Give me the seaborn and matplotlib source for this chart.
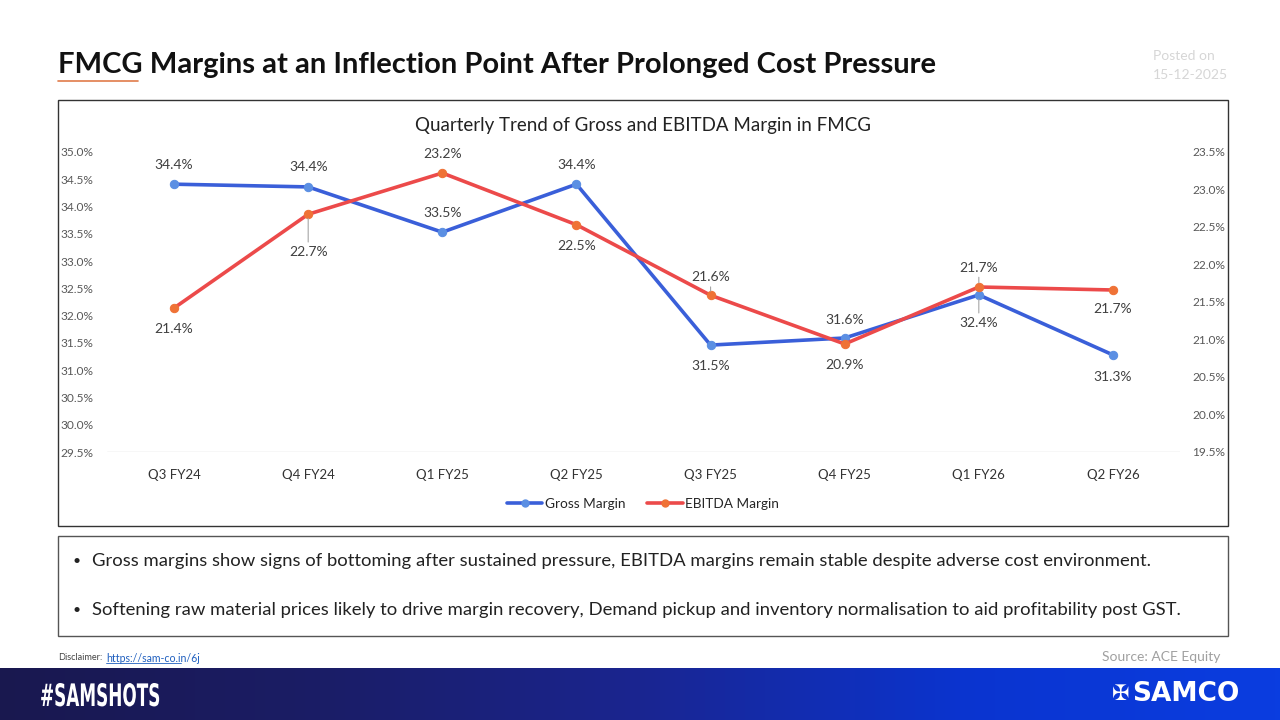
import numpy as np
import pandas as pd
import matplotlib
matplotlib.use("Agg")
import matplotlib.pyplot as plt
import seaborn as sns
from matplotlib.colors import LinearSegmentedColormap
from matplotlib.patches import Rectangle, PathPatch
from matplotlib.lines import Line2D
from matplotlib.textpath import TextPath
from matplotlib.font_manager import FontProperties
from matplotlib.transforms import Affine2D, IdentityTransform
from matplotlib.ticker import FuncFormatter, MultipleLocator

# data
quarters = ["Q3 FY24", "Q4 FY24", "Q1 FY25", "Q2 FY25", "Q3 FY25", "Q4 FY25", "Q1 FY26", "Q2 FY26"]
gross_margin = [34.41, 34.36, 33.53, 34.41, 31.46, 31.59, 32.38, 31.28]
ebitda_margin = [21.42, 22.67, 23.22, 22.53, 21.59, 20.94, 21.70, 21.66]
gross_labels = ["34.4%", "34.4%", "33.5%", "34.4%", "31.5%", "31.6%", "32.4%", "31.3%"]
ebitda_labels = ["21.4%", "22.7%", "23.2%", "22.5%", "21.6%", "20.9%", "21.7%", "21.7%"]

bullets = [
    "Gross margins show signs of bottoming after sustained pressure, EBITDA margins remain stable despite adverse cost environment.",
    "Softening raw material prices likely to drive margin recovery, Demand pickup and inventory normalisation to aid profitability post GST.",
]

sns.set_style("white")
plt.rcParams['font.family'] = ['Lato', 'DejaVu Sans']

df = pd.DataFrame({"Quarter": quarters, "Gross": gross_margin, "EBITDA": ebitda_margin})

blue = "#3a5fd9"
blue_mk = "#5b8fe3"
red = "#ec4a4a"
red_mk = "#ef7236"
tick_col = "#595959"

fig = plt.figure(figsize=(12.8, 7.2), dpi=100)

# title
fig.text(58/1280, 1-65/720, "FMCG Margins at an Inflection Point After Prolonged Cost Pressure",
         fontsize=21, fontweight="bold", color="#111111", va="center", ha="left")
fig.add_artist(Line2D([58/1280, 138/1280], [1-81/720, 1-81/720], color="#e07b4a", lw=1.2))
fig.text(1153/1280, 1-56/720, "Posted on", fontsize=10, color="#d6d6d6", va="center")
fig.text(1153/1280, 1-75/720, "15-12-2025", fontsize=10, color="#d6d6d6", va="center")

# chart frame and text box
fig.add_artist(Rectangle((58/1280, 1-526/720), 1170/1280, 426/720, fill=False, ec="#333333", lw=1))
fig.add_artist(Rectangle((58/1280, 1-636/720), 1170/1280, 100/720, fill=False, ec="#555555", lw=1))
fig.text(643/1280, 1-125/720, "Quarterly Trend of Gross and EBITDA Margin in FMCG",
         fontsize=13.5, color="#222222", ha="center", va="center")

ax = fig.add_axes([107/1280, 1-452/720, 1073/1280, 300/720])
ax2 = ax.twinx()

sns.lineplot(data=df, x="Quarter", y="Gross", ax=ax, color=blue, lw=2.6, marker="o",
             markersize=6, markerfacecolor=blue_mk, markeredgecolor=blue_mk, label="Gross Margin", legend=False)
sns.lineplot(data=df, x="Quarter", y="EBITDA", ax=ax2, color=red, lw=2.6, marker="o",
             markersize=6, markerfacecolor=red_mk, markeredgecolor=red_mk, label="EBITDA Margin", legend=False)

ax.set_xlim(-0.5, 7.5)
ax.set_ylim(29.5, 35.0)
ax2.set_ylim(19.5, 23.5)
ax.yaxis.set_major_locator(MultipleLocator(0.5))
ax2.yaxis.set_major_locator(MultipleLocator(0.5))
fmt = FuncFormatter(lambda v, p: f"{v:.1f}%")
ax.yaxis.set_major_formatter(fmt)
ax2.yaxis.set_major_formatter(fmt)
for a in (ax, ax2):
    for s in a.spines.values():
        s.set_visible(False)
    a.set_xlabel("")
    a.set_ylabel("")
    a.tick_params(axis="y", length=0, labelsize=8.6, labelcolor=tick_col)
    a.tick_params(axis="x", length=0, labelsize=9.5, labelcolor="#333333", pad=12)
ax.tick_params(axis="y", pad=10)
ax2.tick_params(axis="y", pad=9)
ax.axhline(29.5, color="#d9d9d9", lw=1)

# data labels: offsets in points, leader line flag
gross_off = [(14, False), (14, False), (14, False), (14, False), (-15, False), (13, False), (-20, True), (-16, False)]
ebitda_off = [(-15, False), (-27, True), (14, False), (-15, False), (13, True), (-15, False), (14, True), (-14, False)]

def put_labels(axis, vals, labels, offs):
    for i, (v, lab, (dy, lead)) in enumerate(zip(vals, labels, offs)):
        axis.annotate(lab, (i, v), xytext=(0, dy), textcoords="offset points",
                      ha="center", va="center", fontsize=10, color="#404040")
        if lead:
            sign = 1 if dy > 0 else -1
            axis.annotate("", (i, v), xytext=(0, dy - sign*7), textcoords="offset points",
                          arrowprops=dict(arrowstyle="-", color="#a6a6a6", lw=0.8,
                                          shrinkA=0, shrinkB=3))

put_labels(ax, gross_margin, gross_labels, gross_off)
put_labels(ax2, ebitda_margin, ebitda_labels, ebitda_off)

handles = [
    Line2D([], [], color=blue, lw=2.6, marker="o", markersize=5, markerfacecolor=blue_mk, markeredgecolor=blue_mk),
    Line2D([], [], color=red, lw=2.6, marker="o", markersize=5, markerfacecolor=red_mk, markeredgecolor=red_mk),
]
fig.legend(handles, ["Gross Margin", "EBITDA Margin"], loc="center", bbox_to_anchor=(643/1280, 1-504/720),
           ncol=2, frameon=False, fontsize=9.8, handlelength=2.6, columnspacing=1.6, handletextpad=0.2)

# bullets
for yy, txt in zip([561, 610], bullets):
    fig.text(73/1280, 1-yy/720, "\u2022", fontsize=10, color="#222222", va="center")
    fig.text(92/1280, 1-yy/720, txt, fontsize=13.3, color="#222222", va="center")

# footer
fig.text(58/1280, 1-658/720, "Disclaimer:", fontsize=6.6, color="#444444", va="center")
fig.text(106/1280, 1-658/720, "https://sam-co.in/6j", fontsize=7.6, color="#1f5fbf", va="center")
fig.add_artist(Line2D([106/1280, 181/1280], [1-663/720, 1-663/720], color="#1f5fbf", lw=0.6))
fig.text(1220/1280, 1-657/720, "Source: ACE Equity", fontsize=10, color="#a0a0a0", va="center", ha="right")

fax = fig.add_axes([0, 0, 1, 52/720])
cmap = LinearSegmentedColormap.from_list("band", ["#19184f", "#1b1d66", "#1a2590", "#0b34cf", "#0a3de0"])
fax.imshow(np.linspace(0, 1, 256).reshape(1, -1), cmap=cmap, aspect="auto", extent=(0, 1, 0, 1))
fax.set_axis_off()

# condensed "#SAMSHOTS" drawn as a squeezed text path (pixel coords)
tp = TextPath((0, 0), "#SAMSHOTS", size=31, prop=FontProperties(family="DejaVu Sans", weight="bold"))
tw = tp.get_extents().width
sx = 118 / tw
fig.add_artist(PathPatch(tp, transform=Affine2D().scale(sx, 1.0).translate(40, 14) + IdentityTransform(),
                         fc="white", ec="none"))

fig.text(1240/1280, 26/720, "SAMCO", fontsize=19, fontweight="black", color="white",
         va="center", ha="right", family="DejaVu Sans")
fig.text(1112/1280, 26/720, "\u2720", fontsize=15, color="white", va="center", ha="left", family="DejaVu Sans")

fig.savefig("out.png", dpi=100)
